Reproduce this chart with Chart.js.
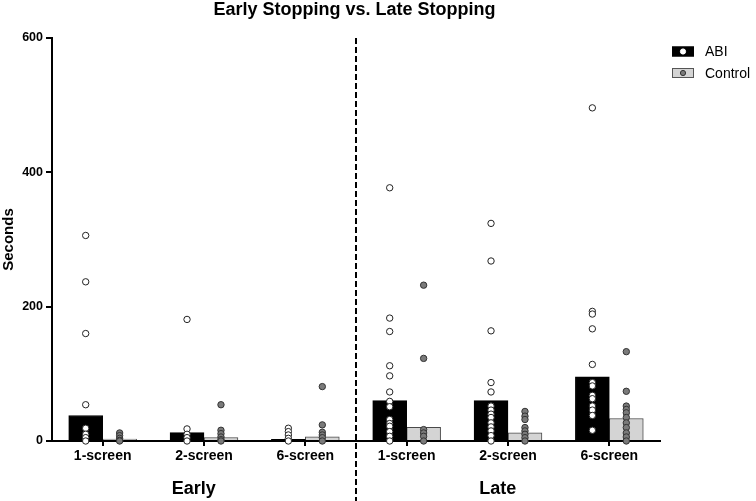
<!DOCTYPE html>
<html>
<head>
<meta charset="utf-8">
<script src="https://cdn.jsdelivr.net/npm/chart.js@4.4.1/dist/chart.umd.min.js"></script>
<style>
  html, body { margin: 0; padding: 0; background: #fff; }
  #wrap { width: 756px; height: 501px; }
</style>
</head>
<body>
<div id="wrap"><canvas id="chart" width="756" height="501"></canvas></div>
<script>
// ===== DATA =====
const categories = ["1-screen", "2-screen", "6-screen", "1-screen", "2-screen", "6-screen"];
const groups = ["Early", "Late"];
const yTicks = [0, 200, 400, 600];

// bar heights (seconds)
const abiBar = [38, 12.5, 2.5, 60, 60, 95.5];
const ctrlBar = [2.7, 5.2, 6.2, 20.5, 12, 33.5];

// individual points per category
const abiDots = [
  [306, 237, 160, 54, 19, 10, 5, 0],
  [181, 18, 10, 5, 0],
  [19, 14, 9, 4, 0],
  [377, 183, 163, 112, 97, 73, 59, 51, 32, 26, 22, 14, 7, 0],
  [324, 268, 164, 87, 73, 52, 46, 40, 35, 27, 21, 15, 8, 0],
  [496, 193, 189, 167, 114, 87, 82, 68, 63, 52, 46, 38, 16]
];
const ctrlDots = [
  [12, 8, 4, 1, 0],
  [54, 16, 11, 6, 2, 0],
  [81, 24, 13, 9, 5, 0],
  [232, 123, 17, 12, 7, 0],
  [44, 37, 32, 20, 15, 10, 5, 0],
  [133, 74, 52, 47, 42, 35, 27, 20, 12, 6, 0]
];

// ===== CHART =====
const FONT = "'Liberation Sans', Arial, Helvetica, sans-serif";
const SHIFT = 0.1675; // half bar width, in category units

function toPoints(lists, side) {
  const pts = [];
  lists.forEach((vals, i) => vals.forEach((v) => pts.push({ x: i + side * SHIFT, y: v })));
  return pts;
}
function toBars(vals, side) {
  return vals.map((v, i) => ({ x: i + side * SHIFT, y: v }));
}

const extras = {
  id: "extras",
  afterDatasetsDraw(chart) {
    const { ctx, chartArea, scales } = chart;
    const xs = scales.xs;
    ctx.save();

    // dashed separator between Early and Late
    const sepX = xs.getPixelForValue(2.5);
    ctx.strokeStyle = "#000";
    ctx.lineWidth = 2;
    ctx.setLineDash([6, 3]);
    ctx.beginPath();
    ctx.moveTo(sepX, chartArea.top);
    ctx.lineTo(sepX, chart.height);
    ctx.stroke();
    ctx.setLineDash([]);

    // title
    ctx.fillStyle = "#000";
    ctx.textAlign = "center";
    ctx.textBaseline = "middle";
    ctx.font = "bold 18px " + FONT;
    ctx.fillText("Early Stopping vs. Late Stopping", 354.5, 10);

    // group labels
    ctx.fillText(groups[0], xs.getPixelForValue(0.9), 489);
    ctx.fillText(groups[1], xs.getPixelForValue(3.9), 489);

    // legend
    const items = [
      { text: "ABI", box: "#000", edge: "#000", dot: "#fff", dotEdge: "#fff", y: 51.5 },
      { text: "Control", box: "#d4d4d4", edge: "#555", dot: "#7a7a7a", dotEdge: "#333", y: 73 }
    ];
    ctx.textAlign = "left";
    ctx.font = "14px " + FONT;
    items.forEach((it) => {
      ctx.fillStyle = it.box;
      ctx.fillRect(672, it.y - 5, 22, 10);
      ctx.strokeStyle = it.edge;
      ctx.lineWidth = 1;
      ctx.strokeRect(672.5, it.y - 4.5, 21, 9);
      ctx.beginPath();
      ctx.arc(683, it.y, 2.6, 0, Math.PI * 2);
      ctx.fillStyle = it.dot;
      ctx.fill();
      ctx.strokeStyle = it.dotEdge;
      ctx.stroke();
      ctx.fillStyle = "#000";
      ctx.fillText(it.text, 705, it.y + 1);
    });
    ctx.restore();
  }
};

new Chart(document.getElementById("chart"), {
  type: "bar",
  data: {
    labels: categories,
    datasets: [
      {
        type: "bar", label: "ABI", data: toBars(abiBar, -1), xAxisID: "xs", order: 2,
        backgroundColor: "#000", borderColor: "#000", borderWidth: 1,
        grouped: false, categoryPercentage: 1.0, barPercentage: 1.0
      },
      {
        type: "bar", label: "Control", data: toBars(ctrlBar, 1), xAxisID: "xs", order: 2,
        backgroundColor: "#d4d4d4", borderColor: "#4a4a4a", borderWidth: 1,
        grouped: false, categoryPercentage: 1.0, barPercentage: 1.0
      },
      {
        type: "scatter", label: "ABI points", data: toPoints(abiDots, -1), xAxisID: "xs", order: 1,
        pointRadius: 3.2, pointBackgroundColor: "#fff", pointBorderColor: "#222", pointBorderWidth: 1, clip: false
      },
      {
        type: "scatter", label: "Control points", data: toPoints(ctrlDots, 1), xAxisID: "xs", order: 1,
        pointRadius: 3.2, pointBackgroundColor: "#7a7a7a", pointBorderColor: "#333", pointBorderWidth: 1, clip: false
      }
    ]
  },
  options: {
    responsive: false,
    animation: false,
    events: [],
    layout: { padding: { top: 38, right: 96, left: 0, bottom: 0 } },
    plugins: { legend: { display: false }, title: { display: false }, tooltip: { enabled: false } },
    scales: {
      x: {
        type: "category",
        offset: true,
        border: { color: "#000", width: 2 },
        grid: { drawOnChartArea: false, drawTicks: true, tickLength: 5, offset: false, color: "#000", lineWidth: 2 },
        ticks: { color: "#000", font: { family: FONT, size: 14, weight: "bold" }, padding: 2, maxRotation: 0 },
        afterFit: (s) => { s.height = 60; }
      },
      xs: {
        type: "linear", display: false, min: -0.5, max: 5.5, offset: false
      },
      y: {
        min: 0, max: 600,
        afterBuildTicks: (s) => { s.ticks = yTicks.map((v) => ({ value: v })); },
        border: { color: "#000", width: 2 },
        grid: { drawOnChartArea: false, drawTicks: true, tickLength: 6, color: "#000", lineWidth: 2 },
        ticks: { color: "#000", font: { family: FONT, size: 12.5, weight: "bold" }, padding: 3 },
        title: { display: true, text: "Seconds", color: "#000", font: { family: FONT, size: 15, weight: "bold" }, padding: 0 },
        afterFit: (s) => { s.width = 52; }
      }
    }
  },
  plugins: [extras]
});
</script>
</body>
</html>
